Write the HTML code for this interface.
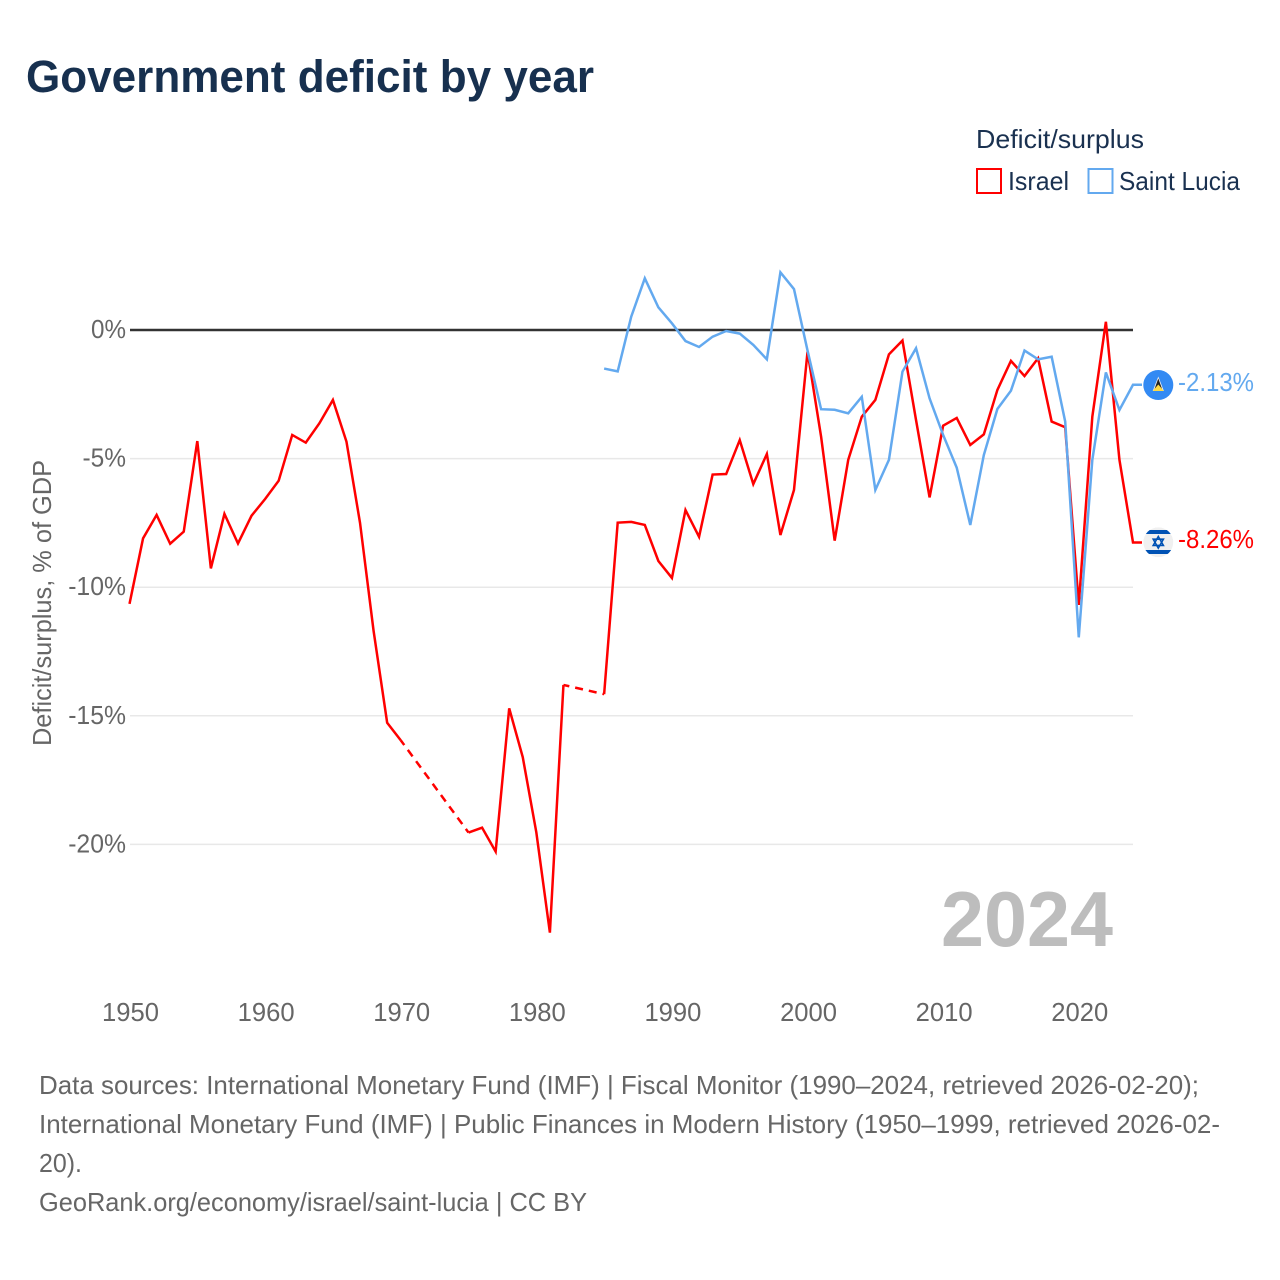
<!DOCTYPE html>
<html lang="en">
<head>
<meta charset="utf-8">
<title>Government deficit by year</title>
<style>
  html, body { margin: 0; padding: 0; background: #ffffff; }
  body { width: 1280px; height: 1280px; overflow: hidden; }
  svg { display: block; font-family: "Liberation Sans", sans-serif; }
  .footer { font-size: 25.6px; fill: #666666; }
  .legend { font-size: 25.6px; fill: #1a3150; }
</style>
</head>
<body>
<svg id="chart" width="1280" height="1280" viewBox="0 0 1280 1280" xmlns="http://www.w3.org/2000/svg">
  <rect x="0" y="0" width="1280" height="1280" fill="#ffffff"/>
  <text x="26" y="92" font-size="45" font-weight="700" fill="#17304f" textLength="568" lengthAdjust="spacingAndGlyphs">Government deficit by year</text>

  <g>
    <text class="legend" x="976" y="148" textLength="168" lengthAdjust="spacingAndGlyphs">Deficit/surplus</text>
    <rect x="977" y="169" width="24" height="24" fill="none" stroke="#ff0000" stroke-width="2"/>
    <text class="legend" x="1008" y="190" textLength="61" lengthAdjust="spacingAndGlyphs">Israel</text>
    <rect x="1088.5" y="169" width="24" height="24" fill="none" stroke="#63a9ef" stroke-width="2"/>
    <text class="legend" x="1119" y="190" textLength="121" lengthAdjust="spacingAndGlyphs">Saint Lucia</text>
  </g>

  <text transform="translate(51,603) rotate(-90)" text-anchor="middle" font-size="25.6" fill="#666666" textLength="286" lengthAdjust="spacingAndGlyphs">Deficit/surplus, % of GDP</text>

  <g id="grid"></g>
  <g id="y-ticks"></g>
  <g id="x-ticks"></g>

  <text x="941" y="946" font-size="78" font-weight="700" fill="#bdbdbd" textLength="172" lengthAdjust="spacingAndGlyphs">2024</text>

  <g id="series"></g>

  <defs>
    <clipPath id="flag-clip-il"><circle cx="1158.3" cy="542.3" r="15"/></clipPath>
  </defs>
  <g>
    <circle cx="1158.3" cy="385" r="15" fill="#338af3"/>
    <polygon points="1158.3,376.5 1152.7,391 1163.9,391" fill="#f0f0f0"/>
    <polygon points="1158.3,378.5 1154.5,389 1162.1,389" fill="#222222"/>
    <polygon points="1158.3,384.5 1152.7,391 1163.9,391" fill="#ffda44"/>
  </g>
  <g clip-path="url(#flag-clip-il)">
    <circle cx="1158.3" cy="542.3" r="15" fill="#f0f0f0"/>
    <rect x="1143" y="530" width="31" height="4" fill="#0052b4"/>
    <rect x="1143" y="550" width="31" height="4" fill="#0052b4"/>
    <polygon points="1158.3,536.5 1163.4,545.4 1153.2,545.4" fill="none" stroke="#0052b4" stroke-width="1.6"/>
    <polygon points="1158.3,548.1 1163.4,539.2 1153.2,539.2" fill="none" stroke="#0052b4" stroke-width="1.6"/>
  </g>
  <text x="1178" y="391" font-size="25.6" fill="#63a9ef" textLength="76" lengthAdjust="spacingAndGlyphs">-2.13%</text>
  <text x="1178" y="548" font-size="25.6" fill="#ff0000" textLength="76" lengthAdjust="spacingAndGlyphs">-8.26%</text>

  <g>
    <text class="footer" x="39" y="1094" textLength="1160" lengthAdjust="spacingAndGlyphs">Data sources: International Monetary Fund (IMF) | Fiscal Monitor (1990–2024, retrieved 2026-02-20);</text>
    <text class="footer" x="39" y="1133" textLength="1181" lengthAdjust="spacingAndGlyphs">International Monetary Fund (IMF) | Public Finances in Modern History (1950–1999, retrieved 2026-02-</text>
    <text class="footer" x="39" y="1172" textLength="43" lengthAdjust="spacingAndGlyphs">20).</text>
    <text class="footer" x="39" y="1211" textLength="548" lengthAdjust="spacingAndGlyphs">GeoRank.org/economy/israel/saint-lucia | CC BY</text>
  </g>
</svg>

<script>
var startYear = 1950;
var israelValues = [-10.65, -8.1, -7.19, -8.31, -7.84, -4.32, -9.27, -7.15, -8.3, -7.22,
  -6.57, -5.86, -4.08, -4.38, -3.63, -2.72, -4.34, -7.5, -11.7, -15.27,
  -15.95, null, null, null, null, -19.54, -19.35, -20.28, -14.71, -16.61,
  -19.53, -23.43, -13.8, null, null, -14.16, -7.49, -7.46, -7.58, -8.98,
  -9.64, -7.0, -8.04, -5.62, -5.6, -4.28, -5.99, -4.82, -7.97, -6.22,
  -0.84, -4.15, -8.19, -5.05, -3.37, -2.72, -0.95, -0.41, -3.5, -6.51,
  -3.72, -3.42, -4.47, -4.06, -2.33, -1.2, -1.79, -1.1, -3.56, -3.78,
  -10.69, -3.37, 0.32, -5.05, -8.26];
var saintLuciaValues = [null, null, null, null, null, null, null, null, null, null,
  null, null, null, null, null, null, null, null, null, null,
  null, null, null, null, null, null, null, null, null, null,
  null, null, null, null, null, -1.5, -1.61, 0.52, 2.01, 0.88,
  0.26, -0.43, -0.66, -0.26, -0.04, -0.14, -0.58, -1.14, 2.24, 1.59,
  -0.8, -3.08, -3.1, -3.24, -2.6, -6.22, -5.05, -1.62, -0.71, -2.66,
  -4.08, -5.35, -7.58, -4.86, -3.07, -2.36, -0.8, -1.14, -1.04, -3.56,
  -11.95, -5.05, -1.65, -3.11, -2.13];
var yTickValues = [0, -5, -10, -15, -20];
var yTickLabels = ["0%", "-5%", "-10%", "-15%", "-20%"];
var xTickYears = [1950, 1960, 1970, 1980, 1990, 2000, 2010, 2020];

var NS = "http://www.w3.org/2000/svg";
var plotLeft = 129.5, plotRight = 1133, zeroY = 330, pxPerPercent = 25.72, endYear = 2024;

function xScale(year) {
  return plotLeft + (year - startYear) * (plotRight - plotLeft) / (endYear - startYear);
}
function yScale(value) {
  return zeroY - value * pxPerPercent;
}

var gridGroup = document.getElementById("grid");
var yTickGroup = document.getElementById("y-ticks");
var xTickGroup = document.getElementById("x-ticks");
var seriesGroup = document.getElementById("series");

yTickValues.forEach(function (value, i) {
  if (value !== 0) {
    var gridLine = document.createElementNS(NS, "line");
    
    
    gridLine.setAttribute("x1", 130);
    gridLine.setAttribute("x2", plotRight);
    gridLine.setAttribute("y1", yScale(value));
    gridLine.setAttribute("y2", yScale(value));
    gridLine.setAttribute("stroke", "#e8e8e8");
    gridLine.setAttribute("stroke-width", "1.5");
    gridGroup.appendChild(gridLine);
  }
  var label = document.createElementNS(NS, "text");
  
  
  label.setAttribute("x", 126);
  label.setAttribute("y", yScale(value) + 8);
  label.setAttribute("text-anchor", "end");
  label.setAttribute("font-size", "25.6");
  label.setAttribute("fill", "#666666");
  label.textContent = yTickLabels[i];
  yTickGroup.appendChild(label);
  label.setAttribute("textLength", (label.getComputedTextLength() - 2).toFixed(1));
  label.setAttribute("lengthAdjust", "spacingAndGlyphs");
});

xTickYears.forEach(function (year) {
  var label = document.createElementNS(NS, "text");
  
  
  label.setAttribute("x", xScale(year) + 1);
  label.setAttribute("y", 1021);
  label.setAttribute("text-anchor", "middle");
  label.setAttribute("font-size", "25.6");
  label.setAttribute("fill", "#666666");
  label.textContent = String(year);
  xTickGroup.appendChild(label);
});

function drawSeries(values, color) {
  var solid = "";
  var dashed = "";
  var last = null;
  values.forEach(function (value, i) {
    if (value === null) { return; }
    var px = xScale(startYear + i).toFixed(2) + " " + yScale(value).toFixed(2);
    if (last === null) {
      solid += "M" + px;
    } else if (last === i - 1) {
      solid += "L" + px;
    } else {
      var prev = xScale(startYear + last).toFixed(2) + " " + yScale(values[last]).toFixed(2);
      dashed += "M" + prev + "L" + px;
      solid += "M" + px;
    }
    last = i;
  });
  var stub = "h9";

  var solidPath = document.createElementNS(NS, "path");
  
  
  solidPath.setAttribute("d", solid + stub);
  solidPath.setAttribute("fill", "none");
  solidPath.setAttribute("stroke", color);
  solidPath.setAttribute("stroke-width", "2.5");
  solidPath.setAttribute("stroke-linejoin", "miter");
  seriesGroup.appendChild(solidPath);

  if (dashed) {
    var dashedPath = document.createElementNS(NS, "path");
    
    
    dashedPath.setAttribute("d", dashed);
    dashedPath.setAttribute("fill", "none");
    dashedPath.setAttribute("stroke", color);
    dashedPath.setAttribute("stroke-width", "2.5");
    dashedPath.setAttribute("stroke-dasharray", "8 6");
    dashedPath.setAttribute("stroke-dashoffset", "2");
    seriesGroup.appendChild(dashedPath);
  }
}

drawSeries(israelValues, "#ff0000");
drawSeries(saintLuciaValues, "#63a9ef");

var zeroLine = document.createElementNS(NS, "line");


zeroLine.setAttribute("x1", 130);
zeroLine.setAttribute("x2", plotRight);
zeroLine.setAttribute("y1", yScale(0));
zeroLine.setAttribute("y2", yScale(0));
zeroLine.setAttribute("stroke", "#333333");
zeroLine.setAttribute("stroke-width", "2.5");
gridGroup.appendChild(zeroLine);
</script>
</body>
</html>
